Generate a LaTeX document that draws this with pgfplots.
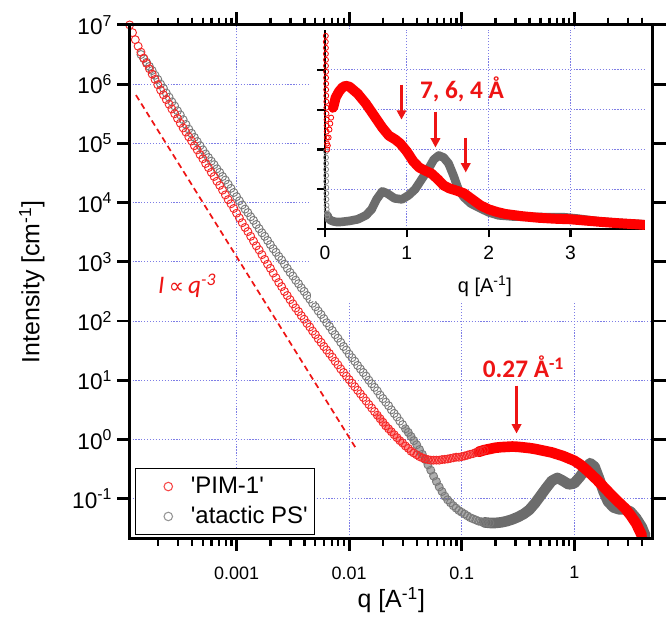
\documentclass[border=0pt]{standalone}
\usepackage{pgfplots}
\pgfplotsset{compat=1.18}
\usepackage{fontspec}
\setmainfont{Liberation Sans}
\newfontfamily\carlito{Carlito}
\newfontfamily\dejavu{DejaVu Sans}
\usetikzlibrary{arrows.meta}
\definecolor{pimred}{RGB}{255,0,0}
\definecolor{pimmark}{RGB}{245,40,40}
\definecolor{psgray}{RGB}{108,108,108}
\definecolor{psmark}{RGB}{122,122,122}
\definecolor{gridblue}{RGB}{125,125,230}
\definecolor{annred}{RGB}{238,20,20}
\begin{document}
\begin{tikzpicture}
\path (0,0) rectangle (500.25pt,461.25pt);
\begin{axis}[
  at={(97.5pt,56.25pt)}, anchor=south west,
  scale only axis, width=393.75pt, height=386.25pt,
  xmode=log, ymode=log,
  xmin=1.12e-4, xmax=5.0, ymin=0.0214, ymax=1e7,
  tick align=outside,
  major tick length=9.5pt, minor tick length=5.5pt,
  major tick style={black, line width=2.2pt},
  minor tick style={black, line width=1.8pt},
  axis line style={black, line width=2.2pt},
  xtick={0.001,0.01,0.1,1},
  minor xtick={2e-4,3e-4,4e-4,5e-4,6e-4,7e-4,8e-4,9e-4,2e-3,3e-3,4e-3,5e-3,6e-3,7e-3,8e-3,9e-3,0.02,0.03,0.04,0.05,0.06,0.07,0.08,0.09,0.2,0.3,0.4,0.5,0.6,0.7,0.8,0.9,2,3,4},
  ytick={0.1,1,10,100,1000,1e4,1e5,1e6,1e7},
  yminorticks=false,
  xticklabels={0.001,0.01,0.1,1},
  yticklabels={10\textsuperscript{-1},10\textsuperscript{0},10\textsuperscript{1},10\textsuperscript{2},10\textsuperscript{3},10\textsuperscript{4},10\textsuperscript{5},10\textsuperscript{6},10\textsuperscript{7}},
  grid=major,
  major grid style={gridblue, line width=0.6pt, dash pattern=on 0.9pt off 1.3pt},
  xticklabel style={font=\fontsize{13.5}{16}\selectfont, inner sep=1.5pt, yshift=-10pt},
  yticklabel style={font=\fontsize{17}{20}\selectfont, inner sep=1.5pt, xshift=-2pt},
  xlabel={q [A\textsuperscript{-1}]},
  ylabel={Intensity [cm\textsuperscript{-1}]},
  xlabel style={font=\fontsize{18.75}{22}\selectfont, at={(axis description cs:0.5,-0.1204)}, anchor=center},
  ylabel style={font=\fontsize{18.75}{22}\selectfont, at={(axis description cs:-0.1867,0.5)}, anchor=center},
  legend style={at={(rel axis cs:0.0095,0.006)}, anchor=south west, draw=black, line width=0.75pt,
    fill=white, font=\fontsize{18}{21}\selectfont, inner xsep=2.5pt, inner ysep=3.25pt, row sep=1.5pt,
    nodes={text height=13pt, text depth=3pt, inner sep=2.5pt}},
  legend cell align=left,
]
\addlegendimage{legend image code/.code={\draw[draw=none] (0pt,-1pt) rectangle (37pt,1pt); \draw[pimmark!85, line width=0.8pt] (22.5pt,0pt) circle (3.2pt);}}
\addlegendentry{\textquotesingle PIM-1\textquotesingle}
\addlegendimage{legend image code/.code={\draw[draw=none] (0pt,-1pt) rectangle (37pt,1pt); \draw[psmark!80, line width=0.8pt] (22.5pt,0pt) circle (3.2pt);}}
\addlegendentry{\textquotesingle atactic PS\textquotesingle}

% atactic PS, dense middle range (under the circles)
\addplot[forget plot, psgray, opacity=0.55, line width=5pt, line join=round, line cap=round] table {
q I
3.162e-2 1.514
3.548e-2 1.122
3.981e-2 0.813
4.467e-2 0.562
5.012e-2 0.372
5.623e-2 0.240
6.310e-2 0.158
7.079e-2 0.110
7.943e-2 0.0851
8.913e-2 0.0692
0.1000 0.0589
0.1122 0.0513
0.1259 0.0457
0.1413 0.0417
0.1585 0.0398
};
% atactic PS, low q (open circles)
\addplot[forget plot, only marks, mark=o, mark size=3pt, draw=psmark, mark options={line width=0.7pt}] table {
q I
1.413e-4 3.162e6
1.496e-4 2.692e6
1.585e-4 2.344e6
1.679e-4 1.995e6
1.778e-4 1.698e6
1.884e-4 1.413e6
1.995e-4 1.202e6
2.113e-4 1.000e6
2.239e-4 8.511e5
2.371e-4 7.079e5
2.512e-4 6.026e5
2.661e-4 5.012e5
2.818e-4 4.266e5
2.985e-4 3.548e5
3.162e-4 3.020e5
3.350e-4 2.512e5
3.548e-4 2.089e5
3.758e-4 1.738e5
3.981e-4 1.479e5
4.217e-4 1.259e5
4.467e-4 1.072e5
4.732e-4 9.120e4
5.012e-4 7.762e4
5.309e-4 6.607e4
5.623e-4 5.754e4
5.957e-4 5.012e4
6.310e-4 4.365e4
6.683e-4 3.715e4
7.079e-4 3.236e4
7.499e-4 2.754e4
7.943e-4 2.399e4
8.414e-4 2.042e4
8.913e-4 1.738e4
9.441e-4 1.479e4
1.000e-3 1.259e4
1.059e-3 1.072e4
1.122e-3 9.120e3
1.189e-3 7.762e3
1.259e-3 6.761e3
1.334e-3 5.754e3
1.413e-3 5.012e3
1.496e-3 4.266e3
1.585e-3 3.631e3
1.679e-3 3.090e3
1.778e-3 2.692e3
1.884e-3 2.291e3
1.995e-3 1.950e3
2.113e-3 1.660e3
2.239e-3 1.445e3
2.371e-3 1.230e3
2.512e-3 1.072e3
2.661e-3 912.0
2.818e-3 776.2
2.985e-3 660.7
3.162e-3 575.4
3.350e-3 489.8
3.548e-3 426.6
3.758e-3 363.1
3.981e-3 316.2
4.217e-3 269.2
4.467e-3 234.4
4.732e-3 199.5
5.012e-3 173.8
5.309e-3 147.9
5.623e-3 128.8
5.957e-3 109.6
6.310e-3 93.33
6.683e-3 81.28
7.079e-3 69.18
7.499e-3 58.88
7.943e-3 51.29
8.414e-3 43.65
8.913e-3 37.15
9.441e-3 32.36
1.000e-2 27.54
1.059e-2 23.99
1.122e-2 20.89
1.189e-2 17.78
1.259e-2 15.49
1.334e-2 13.49
1.413e-2 11.75
1.496e-2 10.00
1.585e-2 8.710
1.679e-2 7.586
1.778e-2 6.607
1.884e-2 5.623
1.995e-2 4.898
2.113e-2 4.266
2.239e-2 3.715
2.371e-2 3.162
2.512e-2 2.754
2.661e-2 2.399
2.818e-2 2.042
2.985e-2 1.778
3.162e-2 1.514
3.350e-2 1.318
3.548e-2 1.122
3.758e-2 0.955
3.981e-2 0.813
4.217e-2 0.676
4.467e-2 0.562
4.732e-2 0.457
5.012e-2 0.372
5.309e-2 0.302
5.623e-2 0.240
5.957e-2 0.195
6.310e-2 0.158
6.683e-2 0.132
7.079e-2 0.110
7.499e-2 0.0955
7.943e-2 0.0851
8.414e-2 0.0759
8.913e-2 0.0692
9.441e-2 0.0631
0.1000 0.0589
0.1059 0.0550
0.1122 0.0513
0.1189 0.0479
0.1259 0.0457
0.1334 0.0437
0.1413 0.0417
0.1496 0.0407
0.1585 0.0398
0.1679 0.0394
0.1778 0.0389
};
% atactic PS, high q (dense)
\addplot[forget plot, psgray, line width=8pt, line join=round, line cap=round] table {
q I
0.1585 0.0398
0.1778 0.0389
0.1995 0.0389
0.2239 0.0398
0.2512 0.0417
0.2818 0.0447
0.3162 0.0490
0.3548 0.0550
0.3981 0.0646
0.4467 0.0832
0.5012 0.112
0.5623 0.151
0.6310 0.200
0.7079 0.224
0.7943 0.200
0.8913 0.174
1.000 0.182
1.122 0.234
1.259 0.316
1.380 0.398
1.514 0.347
1.660 0.219
1.820 0.132
1.995 0.0891
2.239 0.0708
2.512 0.0661
2.818 0.0661
3.162 0.0603
3.548 0.0468
3.981 0.0331
4.266 0.0240
};
% PIM-1, dense middle range (under the circles)
\addplot[forget plot, pimred, opacity=0.45, line width=4.5pt, line join=round, line cap=round] table {
q I
1.778e-2 2.570
1.995e-2 1.950
2.239e-2 1.514
2.512e-2 1.202
2.818e-2 0.955
3.162e-2 0.776
3.548e-2 0.631
3.981e-2 0.550
4.467e-2 0.490
5.012e-2 0.457
5.623e-2 0.447
6.310e-2 0.447
7.079e-2 0.462
7.943e-2 0.479
8.913e-2 0.501
0.1000 0.513
0.1122 0.543
0.1259 0.575
0.1413 0.617
};
% PIM-1, low q (open circles)
\addplot[forget plot, only marks, mark=o, mark size=3pt, draw=pimmark, mark options={line width=0.7pt}] table {
q I
1.122e-4 1.000e7
1.189e-4 7.413e6
1.259e-4 5.623e6
1.334e-4 4.365e6
1.413e-4 3.467e6
1.496e-4 2.754e6
1.585e-4 2.239e6
1.679e-4 1.820e6
1.778e-4 1.479e6
1.884e-4 1.202e6
1.995e-4 9.772e5
2.113e-4 7.943e5
2.239e-4 6.607e5
2.371e-4 5.495e5
2.512e-4 4.571e5
2.661e-4 3.802e5
2.818e-4 3.162e5
2.985e-4 2.630e5
3.162e-4 2.188e5
3.350e-4 1.820e5
3.548e-4 1.549e5
3.758e-4 1.288e5
3.981e-4 1.096e5
4.217e-4 9.120e4
4.467e-4 7.762e4
4.732e-4 6.457e4
5.012e-4 5.495e4
5.309e-4 4.571e4
5.623e-4 3.890e4
5.957e-4 3.236e4
6.310e-4 2.754e4
6.683e-4 2.291e4
7.079e-4 1.950e4
7.499e-4 1.622e4
7.943e-4 1.349e4
8.414e-4 1.122e4
8.913e-4 9.550e3
9.441e-4 7.943e3
1.000e-3 6.607e3
1.059e-3 5.495e3
1.122e-3 4.571e3
1.189e-3 3.802e3
1.259e-3 3.236e3
1.334e-3 2.692e3
1.413e-3 2.239e3
1.496e-3 1.862e3
1.585e-3 1.585e3
1.679e-3 1.318e3
1.778e-3 1.096e3
1.884e-3 912.0
1.995e-3 776.2
2.113e-3 645.7
2.239e-3 537.0
2.371e-3 446.7
2.512e-3 380.2
2.661e-3 316.2
2.818e-3 269.2
2.985e-3 229.1
3.162e-3 195.0
3.350e-3 166.0
3.548e-3 144.5
3.758e-3 123.0
3.981e-3 107.2
4.217e-3 91.20
4.467e-3 79.43
4.732e-3 67.61
5.012e-3 58.88
5.309e-3 50.12
5.623e-3 43.65
5.957e-3 37.15
6.310e-3 32.36
6.683e-3 28.18
7.079e-3 24.55
7.499e-3 20.89
7.943e-3 18.20
8.414e-3 15.49
8.913e-3 13.49
9.441e-3 11.75
1.000e-2 10.23
1.059e-2 8.913
1.122e-2 7.762
1.189e-2 6.761
1.259e-2 5.888
1.334e-2 5.129
1.413e-2 4.467
1.496e-2 3.890
1.585e-2 3.388
1.679e-2 2.951
1.778e-2 2.570
1.884e-2 2.239
1.995e-2 1.950
2.113e-2 1.698
2.239e-2 1.514
2.371e-2 1.349
2.512e-2 1.202
2.661e-2 1.072
2.818e-2 0.955
2.985e-2 0.871
3.162e-2 0.776
3.350e-2 0.708
3.548e-2 0.631
3.758e-2 0.589
3.981e-2 0.550
4.217e-2 0.513
4.467e-2 0.490
4.732e-2 0.468
5.012e-2 0.457
5.309e-2 0.447
5.623e-2 0.447
5.957e-2 0.447
6.310e-2 0.447
6.683e-2 0.457
7.079e-2 0.462
7.499e-2 0.468
7.943e-2 0.479
8.414e-2 0.490
8.913e-2 0.501
9.441e-2 0.501
0.1000 0.513
0.1059 0.525
0.1122 0.543
0.1189 0.562
0.1259 0.575
0.1334 0.603
0.1413 0.617
0.1496 0.638
0.1585 0.661
};
% PIM-1, high q (dense)
\addplot[forget plot, pimred, line width=8pt, line join=round, line cap=round] table {
q I
0.1413 0.617
0.1585 0.661
0.1778 0.692
0.1995 0.724
0.2239 0.741
0.2512 0.750
0.2818 0.759
0.3162 0.750
0.3548 0.733
0.3981 0.716
0.4467 0.692
0.5012 0.661
0.5623 0.631
0.6310 0.603
0.7079 0.562
0.7943 0.525
0.8913 0.479
1.000 0.437
1.122 0.380
1.259 0.316
1.413 0.257
1.585 0.209
1.778 0.166
1.995 0.132
2.239 0.105
2.512 0.0851
2.818 0.0692
3.162 0.0525
3.548 0.0380
3.981 0.0240
};
% q^-3 guide line
\addplot[forget plot, annred, line width=1.3pt, dash pattern=on 4.5pt off 3pt] coordinates {(1.276e-4,6.53e5) (1.15e-2,0.706)};

\node[anchor=west, text=annred, inner sep=0pt] at (axis cs:2.0e-4,390)
  {\carlito\itshape\fontsize{19}{22}\selectfont I\,{\dejavu\upshape\fontsize{16}{20}\selectfont ∝}\,q\textsuperscript{-3}};
\node[text=annred, font=\carlito\bfseries\fontsize{19}{22}\selectfont] at (axis cs:0.354,16.9) {0.27 Å\textsuperscript{-1}};
\draw[annred, line width=2.2pt, -{Triangle[length=7pt,width=7pt]}] (axis cs:0.307,8.1) -- (axis cs:0.307,1.26);
\end{axis}

% white background of the inset
\fill[white] (234pt,234.75pt) rectangle (489.75pt,439.6pt);

\begin{axis}[
  at={(244.5pt,288.75pt)}, anchor=south west,
  scale only axis, width=240.75pt, height=150pt,
  xmin=0, xmax=3.91, ymin=0, ymax=1,
  axis lines*=left,
  axis line style={-, black, line width=1.8pt},
  tick align=outside, major tick length=6pt,
  major tick style={black, line width=1.6pt},
  xtick={0,1,2,3}, xticklabels={0,1,2,3},
  ytick={0,0.2,0.4,0.6,0.8}, yticklabels={},
  minor tick num=0,
  grid=major,
  major grid style={gridblue, line width=0.6pt, dash pattern=on 0.9pt off 1.3pt},
  xticklabel style={font=\fontsize{14.5}{17}\selectfont, inner sep=1.5pt, yshift=-5pt},
  xlabel={q [A\textsuperscript{-1}]},
  xlabel style={font=\fontsize{15}{18}\selectfont, at={(axis description cs:0.5,-0.285)}, anchor=center},
]
% atactic PS inset
\addplot[only marks, mark=o, mark size=1.9pt, draw=psmark!85, mark options={line width=0.6pt}] table {
q I
0.012 0.39
0.012 0.36
0.013 0.33
0.013 0.30
0.014 0.27
0.014 0.24
0.015 0.21
0.016 0.18
0.017 0.15
0.019 0.12
0.021 0.10
0.024 0.08
0.028 0.065
};
\addplot[psgray, line width=6.5pt, line join=round, line cap=round] table {
q I
0.030 0.070
0.040 0.055
0.070 0.045
0.10 0.040
0.15 0.036
0.20 0.037
0.30 0.042
0.40 0.050
0.50 0.070
0.57 0.100
0.63 0.150
0.70 0.190
0.76 0.180
0.85 0.155
0.94 0.150
1.02 0.170
1.10 0.200
1.18 0.250
1.26 0.300
1.33 0.350
1.39 0.370
1.45 0.360
1.51 0.330
1.57 0.270
1.63 0.200
1.70 0.160
1.78 0.130
1.85 0.115
2.00 0.085
2.12 0.070
2.30 0.064
2.50 0.062
2.70 0.061
2.93 0.060
3.10 0.053
3.34 0.040
3.60 0.032
3.90 0.025
};
% PIM-1 inset
\addplot[only marks, mark=o, mark size=1.9pt, draw=pimred, mark options={line width=0.6pt}] table {
q I
0.010 0.97
0.010 0.94
0.011 0.91
0.011 0.88
0.012 0.85
0.012 0.82
0.013 0.79
0.013 0.76
0.014 0.73
0.014 0.70
0.015 0.67
0.016 0.64
0.017 0.61
0.018 0.58
0.019 0.55
0.020 0.52
0.021 0.49
0.023 0.46
0.025 0.43
0.028 0.40
0.035 0.42
0.045 0.46
0.055 0.50
0.065 0.53
0.075 0.56
0.090 0.60
0.110 0.635
0.130 0.66
0.150 0.68
0.180 0.70
0.210 0.71
};
\addplot[pimred, line width=7.5pt, line join=round, line cap=round] table {
q I
0.10 0.61
0.13 0.66
0.17 0.69
0.21 0.71
0.25 0.72
0.30 0.715
0.40 0.68
0.50 0.63
0.60 0.57
0.70 0.51
0.78 0.47
0.86 0.45
0.92 0.43
1.00 0.39
1.08 0.34
1.15 0.31
1.22 0.295
1.30 0.28
1.38 0.25
1.45 0.22
1.52 0.205
1.60 0.195
1.70 0.18
1.80 0.15
1.90 0.12
2.00 0.10
2.10 0.087
2.20 0.077
2.40 0.066
2.60 0.058
2.80 0.053
3.00 0.050
3.20 0.043
3.40 0.036
3.60 0.030
3.80 0.025
3.90 0.022
};
\node[text=annred, font=\carlito\bfseries\fontsize{19}{22}\selectfont] at (axis cs:1.675,0.70) {7, 6, 4 Å};
\draw[annred, line width=2.2pt, -{Triangle[length=7pt,width=7pt]}] (axis cs:0.935,0.725) -- (axis cs:0.935,0.55);
\draw[annred, line width=2.2pt, -{Triangle[length=7pt,width=7pt]}] (axis cs:1.35,0.59) -- (axis cs:1.35,0.41);
\draw[annred, line width=2.2pt, -{Triangle[length=7pt,width=7pt]}] (axis cs:1.72,0.46) -- (axis cs:1.72,0.285);
\end{axis}

% frame and ticks of the main axis, drawn again on top
\begin{axis}[
  at={(97.5pt,56.25pt)}, anchor=south west,
  scale only axis, width=393.75pt, height=386.25pt,
  xmode=log, ymode=log,
  xmin=1.12e-4, xmax=5.0, ymin=0.0214, ymax=1e7,
  tick align=outside,
  major tick length=9.5pt, minor tick length=5.5pt,
  major tick style={black, line width=2.2pt},
  minor tick style={black, line width=1.8pt},
  axis line style={black, line width=2.2pt},
  xtick={0.001,0.01,0.1,1},
  minor xtick={2e-4,3e-4,4e-4,5e-4,6e-4,7e-4,8e-4,9e-4,2e-3,3e-3,4e-3,5e-3,6e-3,7e-3,8e-3,9e-3,0.02,0.03,0.04,0.05,0.06,0.07,0.08,0.09,0.2,0.3,0.4,0.5,0.6,0.7,0.8,0.9,2,3,4},
  ytick={0.1,1,10,100,1000,1e4,1e5,1e6,1e7},
  yminorticks=false,
  xticklabels={}, yticklabels={},
]
\addplot[draw=none] coordinates {(1e-3,1) (1e-2,10)};
\end{axis}
\end{tikzpicture}
\end{document}
